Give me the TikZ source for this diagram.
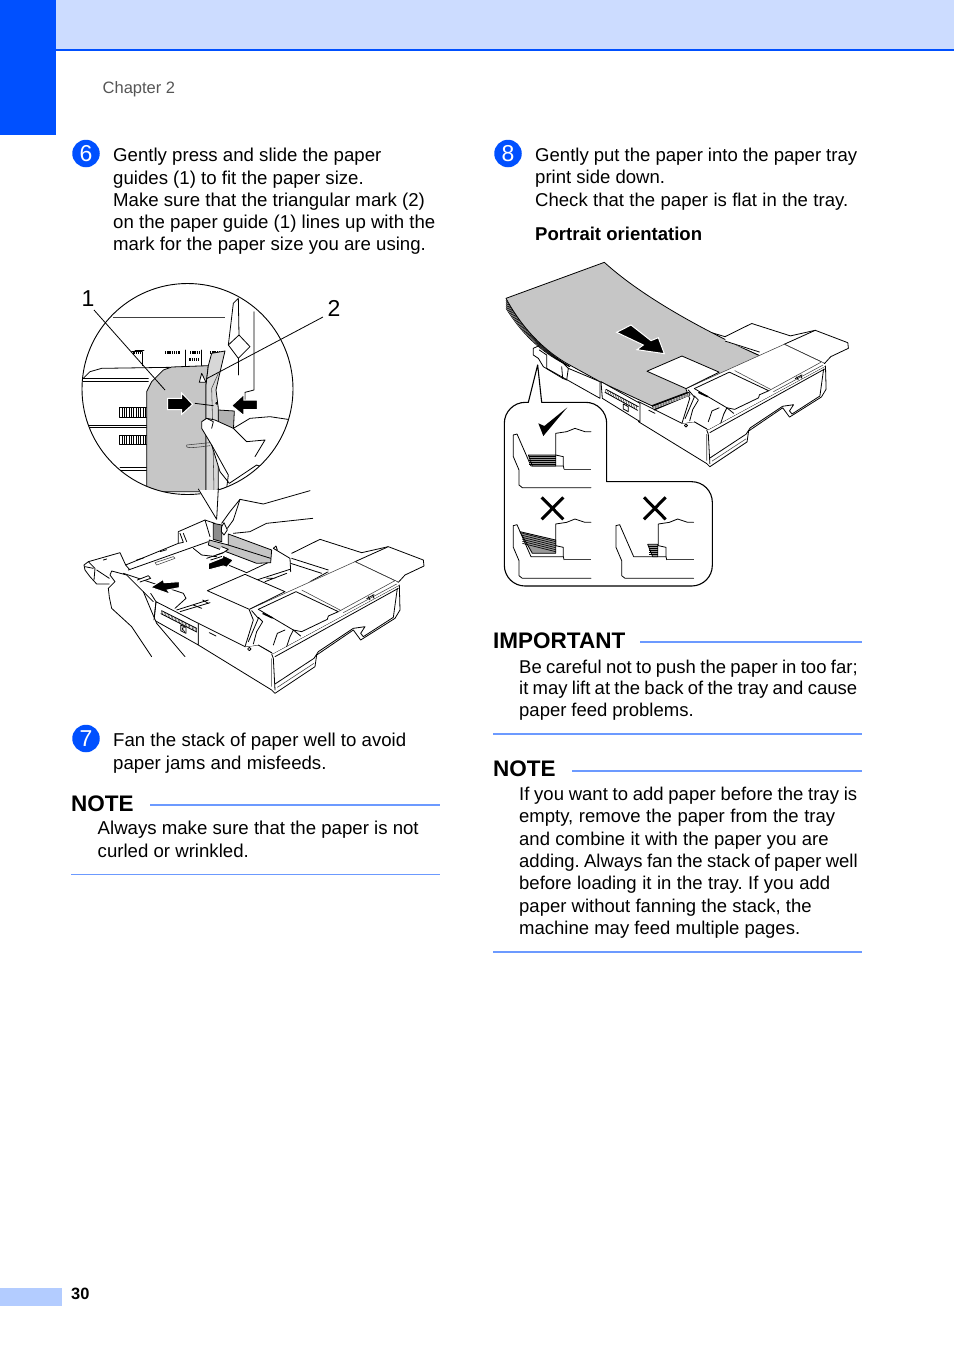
\documentclass[tikz,border=0pt]{standalone}
\usepackage{fontspec}
\setmainfont{Liberation Sans}
\definecolor{hblue}{HTML}{0050FF}
\definecolor{hlight}{HTML}{CCDCFF}
\definecolor{flight}{HTML}{B3CCFF}
\definecolor{rule}{HTML}{6C9AFF}
\definecolor{gtxt}{HTML}{555555}
\definecolor{pgray}{HTML}{C6C6C6}
\tikzset{
 body/.style={font=\fontsize{18.63}{22.3}\selectfont\frenchspacing,anchor=north west,inner sep=0pt,align=left},
 head/.style={font=\fontsize{22.5}{26}\selectfont\bfseries,anchor=base west,inner sep=0pt},
 stepnum/.style={circle,fill=hblue,text=white,minimum size=27.5pt,inner sep=0pt,font=\fontsize{23}{26}\selectfont},
 rulel/.style={rule,line width=1.3pt},
 ill/.style={line width=0.8pt,line join=round,line cap=round},
 thin ill/.style={line width=0.55pt,line join=round,black!75},
 blackarrow/.style={fill=black,draw=white,line width=1pt,line join=miter},
 zoomone/.style={shift={(70,275)},x=0.33333pt,y=-0.33333pt},
 zoomtwo/.style={shift={(70,480)},x=0.33333pt,y=-0.33333pt},
 zoomthree/.style={shift={(495,255)},x=0.33333pt,y=-0.33333pt},
 zoomfour/.style={shift={(495,390)},x=0.33333pt,y=-0.33333pt},
}
\newcommand{\fitl}[2]{\hbox to #1pt{\spaceskip=.278em plus 1fil minus 1fil #2}}
% tray (3 units = 1 px of the left drawing)
\newcommand{\traybody}{%
 \begin{scope}[shift={(360,150)}]
 % rear pieces
 \fill[white] (305,70)--(390,28)--(515,68)--(495,95)--(415,125)--(305,85)--cycle;
 \draw[ill] (305,70)--(390,28)--(515,68)--(595,50);
 \draw[ill] (305,85)--(415,120);
 \draw[ill,fill=white] (495,95)--(595,50)--(700,90)--(702,108)--(645,135)--(625,157)--(615,152)--cycle;
 % front wall
 \draw[ill,fill=white] (25,280)--(25,345)--(245,480)--(255,490)--(375,410)--(380,375)--(490,300)--(512,330)--(615,265)--(630,240)--(628,165)--(250,370)--(245,368)--(205,345)--(165,350)--cycle;
 \draw[thin ill] (245,385)--(245,470) (262,472)--(372,400);
 \draw[ill] (245,372)--(250,385)--(255,480);
 \draw[ill] (255,380)--(625,175);
 \draw[ill] (255,462)--(372,385)--(385,365)--(490,295)--(525,290)--(512,310)--(520,320)--(610,262)--(622,175);
 \draw[ill] (58,308)--(78,318);
 % interior
 \fill[white] (178,238)--(495,95)--(620,155)--(628,165)--(250,370)--(205,345)--(165,350)--(190,270)--cycle;
 \draw[ill] (165,350)--(190,270)--(178,240);
 \draw[ill] (175,335)--(190,300)--(205,265)--(185,242) (190,342)--(200,305)--(218,275)--(205,262);
 \draw[ill] (205,345)--(245,368) (178,357) circle[radius=5];
 \draw[ill] (205,238)--(310,300) (290,350)--(300,320)--(310,300)--(332,318);
 \draw[ill] (250,345)--(262,310)--(285,300);
 \draw[line width=1.6pt] (218,250)--(248,264);
 \draw[ill] (205,238)--(318,185)--(445,245)--(415,258)--(412,268)--(335,305)--(310,300);
 \draw[thin ill] (178,238)--(495,95)--(615,152)--(445,245) (460,248)--(620,162) (335,180)--(450,240);
 \draw[ill] (530,206)--(552,194) (535,200)--(540,210) (548,195)--(552,205);
 % flap
 \draw[ill,fill=white] (52,182)--(165,133)--(285,185)--(178,238)--cycle;
 \end{scope}
}
\begin{document}
\begin{tikzpicture}[x=1pt,y=-1pt]
\useasboundingbox (0,0) rectangle (954,1350);
% page furniture
\fill[hlight] (56,0) rectangle (954,49);
\fill[hblue] (0,0) rectangle (56,135);
\fill[hblue] (56,49) rectangle (954,51);
\fill[flight] (0,1288) rectangle (62,1306);
\node[font=\fontsize{16.5}{20}\selectfont,text=gtxt,anchor=base west,inner sep=0pt] (chap) at (102.5,93) {Chapter 2};
\node[font=\fontsize{16.4}{20}\selectfont\bfseries,anchor=base west,inner sep=0pt] (pg) at (71,1299) {30};
% left column
\node[stepnum] (n6) at (86,153.5) {6};
\node[body] (t6) at (113,148) {Gently press and slide the paper\\guides (1) to fit the paper size.\\Make sure that the triangular mark (2)\\on the paper guide (1) lines up with the\\mark for the paper size you are using.};
\node[stepnum] (n7) at (86,738.5) {7};
\node[body] (t7) at (113,733) {Fan the stack of paper well to avoid\\paper jams and misfeeds.};
\node[head] (note1) at (71,811) {NOTE};
\coordinate (r1a) at (150,805); \coordinate (r1b) at (440,805);
\draw[rulel] (r1a)--(r1b);
\node[body] (t1) at (97.5,821) {Always make sure that the paper is not\\curled or wrinkled.};
\coordinate (r2a) at (71,874.5); \coordinate (r2b) at (440,874.5);
\draw[rule,line width=1pt] (r2a)--(r2b);
% right column
\node[stepnum] (n8) at (508,153.5) {8};
\node[body,font=\fontsize{18.55}{22.3}\selectfont] (t8) at (535,148) {\fitl{322}{Gently put the paper into the paper tray}\\print side down.\\\fitl{313}{Check that the paper is flat in the tray.}};
\node[font=\fontsize{18.55}{22.3}\selectfont\bfseries,anchor=base west,inner sep=0pt] (port) at (535,240) {Portrait orientation};
\node[head] (imp) at (493,648.5) {IMPORTANT};
\coordinate (r3a) at (640,642); \coordinate (r3b) at (862,642);
\draw[rulel] (r3a)--(r3b);
\node[body,font=\fontsize{18.5}{21.8}\selectfont\frenchspacing] (t3) at (519,659.5) {\fitl{338.5}{Be careful not to push the paper in too far;}\\\fitl{338}{it may lift at the back of the tray and cause}\\\fitl{174.5}{paper feed problems.}};
\coordinate (r4a) at (493,734); \coordinate (r4b) at (862,734);
\draw[rulel] (r4a)--(r4b);
\node[head] (note2) at (493,776.7) {NOTE};
\coordinate (r5a) at (572,771); \coordinate (r5b) at (862,771);
\draw[rulel] (r5a)--(r5b);
\node[body,font=\fontsize{18.5}{22.3}\selectfont\frenchspacing] (t5) at (519,787) {\fitl{338}{If you want to add paper before the tray is}\\\fitl{316}{empty, remove the paper from the tray}\\\fitl{309.5}{and combine it with the paper you are}\\\fitl{338.5}{adding. Always fan the stack of paper well}\\\fitl{311}{before loading it in the tray. If you add}\\\fitl{292.5}{paper without fanning the stack, the}\\\fitl{281}{machine may feed multiple pages.}};
\coordinate (r6a) at (493,952); \coordinate (r6b) at (862,952);
\draw[rulel] (r6a)--(r6b);
% --- left tray
\begin{scope}[zoomtwo]
 \begin{scope}[shift={(30,90)}]
  \draw[ill] (405,40)--(375,30)--(295,65)--(295,100)--(137,165)--(120,128)--(25,155)--(12,165)--(15,180)--(30,200)--(50,222)--(88,222);
  \draw[ill] (295,100)--(310,97)--(300,70) (310,70)--(320,95) (375,30)--(390,80);
  \draw[ill] (145,180)--(385,95) (137,165)--(148,178);
  \draw[ill] (25,155)--(45,175)--(42,210) (15,170)--(40,175) (50,180)--(88,205);
  \draw[thin ill] (225,158)--(280,140)--(285,145)--(230,165)--cycle;
  \draw[ill] (170,150)--(190,144) (240,125)--(260,119) (70,150)--(80,147);
  \draw[ill] (340,115)--(365,135)--(410,140);
  \draw[ill] (445,165)--(500,188)--(570,155);
  \draw[ill] (130,190)--(310,250)--(318,265)--(285,295);
  \draw[ill] (290,300)--(385,270) (300,305)--(390,278);
  \draw[ill] (340,285)--(365,295) (368,270)--(385,280);
 \end{scope}
 \begin{scope}[shift={(360,150)}]
  \draw[ill] (200,150)--(300,118) (225,155)--(290,130) (230,145)--(255,145);
  \draw[ill] (250,55)--(300,85)--(302,125) (250,55)--(258,48)--(262,60);
  \draw[ill] (302,100)--(395,130) (360,155)--(415,125);
 \end{scope}
 \traybody
 \begin{scope}[shift={(30,90)}]
  % front-left side
  \draw[ill,fill=white] (228,275)--(355,340)--(355,405)--(222,330)--cycle;
  \draw[ill] (245,302)--(350,355) (243,311)--(350,366);
  \foreach \q in {0,0.04,...,1} \draw[line width=0.35pt] ({245+105*\q},{302+53*\q})--({243+107*\q},{311+55*\q});
  \draw[ill] (302,345)--(318,352)--(318,370)--(302,362)--cycle;
  \draw[ill,line width=0.5pt] (306,350)--(306,362)(307,356)--(314,351)(307,356)--(314,365);
  % gray guide
  \draw[ill,fill=pgray] (445,72)--(575,120)--(572,158)--(530,160)--(385,105)--(388,90)--(445,105)--cycle;
  \draw[ill] (445,105)--(572,145);
  \draw[ill,fill=black!45] (400,40)--(425,45)--(425,95)--(400,88)--cycle;
  \draw[ill,fill=white] (425,110)--(445,118)--(430,128)--(410,135);
  \draw[ill] (380,145)--(430,128) (392,150)--(430,138);
  % arrows
  \draw[blackarrow] (212,232)--(250,208)--(252,218)--(298,215)--(298,233)--(262,240)--(272,253)--cycle;
  \draw[blackarrow] (460,150)--(428,135)--(428,143)--(385,160)--(385,180)--(430,168)--(440,172)--cycle;
  % lower hand
  \draw[ill,fill=white] (315,440)--(230,340)--(215,305)--(190,245)--(140,195)--(95,183)--(90,195)--(105,215)--(85,235)--(88,262)--(95,295)--(155,350)--(215,440);
  \draw[ill,fill=white] (172,210)--(205,197)--(212,205)--(180,216);
  \draw[ill] (190,245)--(220,275) (212,250)--(228,275)--(222,330);
  % upper hand
  \draw[ill] (690,-58)--(550,-18)--(480,-32)--(450,5)--(425,40) (698,25)--(560,40)--(510,65)--(460,70);
  \draw[ill,fill=white] (425,50)--(432,38)--(442,60)--(432,75)--(424,65)--cycle;
  \draw[ill] (480,-32)--(460,30)--(442,55);
 \end{scope}
\end{scope}
% --- magnified circle
\begin{scope}
 \clip (187.5,389) circle[radius=105.5];
 \begin{scope}[zoomone]
  \draw[thin ill] (130,128)--(465,128);
  \draw[ill] (475,210)--(490,85)--(505,70)--(507,180)--(475,210)--(505,250)--(540,215)--(507,180);
  \draw[ill] (552,110)--(552,345)--(525,352)--(525,375);
  \draw[ill] (505,250)--(505,300);
  \draw[ill] (40,310)--(60,290)--(95,280)--(300,277);
  \draw[ill] (40,310)--(235,310) (40,318)--(235,318);
  \draw[ill] (30,450)--(235,450) (30,458)--(235,458);
  \draw[ill] (150,578)--(235,578) (150,585)--(235,585);
  \draw[ill] (216,230)--(216,272) (195,225)--(222,225);
  \draw[ill] (345,225)--(345,272) (395,225)--(395,275);
  \draw[ill] (185,228)--(215,228);
  \foreach \a/\w in {190/20,285/45,360/30,420/30} \draw[line width=2.6pt,dash pattern=on 1.3pt off 0.9pt] (\a,232)--(\a+\w,232);
  \draw[line width=2.6pt,dash pattern=on 1.3pt off 0.9pt] (358,253)--(388,253);
  \foreach \yy in {398,480} {
   \draw[ill,fill=white] (148,\yy)rectangle(232,\yy+28);
   \foreach \xx in {156,163,...,226} \draw[line width=1pt] (\xx,\yy)--(\xx,\yy+28);
  }
  % guide
  \draw[ill,fill=pgray] (230,650)--(230,350)--(245,320)--(280,285)--(305,276)--(415,272)--(408,330)--(408,650)--cycle;
  \draw[ill,fill=black!30] (445,405)--(493,408)--(490,470)--(445,470)--cycle;
  \draw[ill,fill=pgray!70] (415,272)--(425,235)--(465,228)--(448,300)--(438,345)--(445,400)--(445,650)--(408,650)--(408,330)--cycle;
  \draw[thin ill] (432,650)--(428,450)--(425,340)--(445,295);
  \draw[ill] (440,385) circle[radius=3] (375,385)--(430,392);
  \draw[ill,fill=white] (395,295)--(388,322)--(408,322)--cycle;
  \draw[thin ill] (350,510) .. controls (345,520) and (360,520) .. (420,512) (350,510)--(420,503);
  % hand
  \draw[ill,fill=white] (705,650)--(670,620)--(610,590)--(560,570)--(478,625)--(450,590)--(425,510)--(395,460)--(395,440)--(410,430)--(435,435)--(490,460)--(540,430)--(600,425)--(700,440)--(700,650)--cycle;
  \draw[ill] (490,460)--(530,500)--(585,495)--(570,520)--(555,545);
  \draw[ill] (410,430)--(430,440)--(425,460);
  \draw[ill] (425,510)--(475,600)--(470,640);
  % arrows
  \draw[blackarrow] (293,370)--(335,370)--(335,354)--(368,388)--(335,418)--(335,404)--(293,404)--cycle;
  \draw[blackarrow] (562,375)--(522,375)--(522,358)--(485,392)--(522,422)--(522,404)--(562,404)--cycle;
 \end{scope}
\end{scope}
\coordinate (cc) at (187.5,389);
\draw[line width=0.9pt] (cc) circle[radius=105.5];
% callout wedge below the circle
\begin{scope}[zoomtwo]
 \fill[white] (385,30)--(440,118)--(448,30)--cycle;
 \draw[ill] (385,27)--(440,118)--(445,25);
\end{scope}
% leaders
\node[font=\fontsize{23}{26}\selectfont,inner sep=0pt] (lab1) at (88,298.5) {1};
\node[font=\fontsize{23}{26}\selectfont,inner sep=0pt] (lab2) at (334,308.5) {2};
\coordinate (lead1) at (165,390);
\coordinate (lead2) at (206,379);
\coordinate (lab1s) at (94,310);
\coordinate (lab2s) at (323,317);
\draw[line width=0.8pt] (lab1s)--(lead1);
\draw[line width=0.8pt] (lab2s)--(lead2);
% --- right tray
\begin{scope}[zoomthree]
 \draw[ill] (640,235)--(790,300);
 \draw[ill] (650,233)--(700,248);
 % guide at the left end
 \draw[ill,fill=white] (115,280)--(130,273)--(195,315)--(220,340)--(215,375)--(203,370)--(145,335)--(130,310)--(115,300)--cycle;
 \draw[ill] (133,285)--(155,300)--(155,340) (200,335)--(203,370);
 \draw[ill] (220,340)--(315,380) (155,340)--(315,430)--(315,380);
 % stack edges and paper
 \fill[white] (33,130)--(33,160) .. controls (75,227) and (130,290) .. (225,335)--(215,325) .. controls (130,275) and (70,200) .. (33,130);
 \foreach \d in {6,12,18,24,30} \draw[line width=0.6pt] (33,{130+\d}) .. controls ({75},{200+\d*0.9}) and ({130},{275+\d*0.5}) .. (225,335);
 \draw[ill,fill=pgray] (33,130)--(328,22) .. controls (430,115) and (600,215) .. (800,305)--(700,420)--(582,410)--(470,452)--(315,380)--(215,325) .. controls (130,275) and (70,200) .. (33,130);
\end{scope}
\begin{scope}[shift={(708.3,466.7)},x=0.31pt,y=-0.31pt,shift={(-610,-640)}]
 \traybody
\end{scope}
\begin{scope}[zoomthree]
 \draw[ill,fill=white] (318,380)--(435,445)--(435,500)--(322,430)--cycle;
 \draw[ill] (333,403)--(430,455) (330,412)--(428,466);
 \foreach \q in {0,0.05,...,1} \draw[line width=0.35pt] ({333+97*\q},{403+52*\q})--({330+98*\q},{412+54*\q});
 \draw[ill] (385,447)--(400,455)--(400,470)--(385,462)--cycle;
 % paper edge at the flap
 \draw[ill,fill=black] (472,453)--(582,412)--(585,420)--(478,465)--cycle;
 \foreach \d in {3,6,9} \draw[white,line width=0.45pt] (474,{453+\d})--(583,{412+\d*0.95});
 \draw[blackarrow] (365,232)--(408,210)--(468,257)--(490,248)--(508,296)--(426,284)--(445,270)--cycle;
\end{scope}
% --- callout with the three stack views
\begin{scope}[zoomfour]
 \coordinate (tip) at (128,-75);
 \draw[line width=1.1pt,line join=round,fill=white]
   (100,37)--(tip)--(140,37)--(272,37) arc[start angle=-90,end angle=0,radius=63]
   --(335,275)--(590,275) arc[start angle=-90,end angle=0,radius=62]
   --(652,526) arc[start angle=0,end angle=90,radius=62]
   --(90,588) arc[start angle=90,end angle=180,radius=62]
   --(28,100) arc[start angle=180,end angle=270,radius=63]--cycle;
 \draw[white,line width=1.6pt] (104,38)--(136,38);
 \newcommand{\sidecut}[2]{%
  \begin{scope}[shift={(#1,#2)}]
   \draw[ill] (288,125)--(270,125)--(240,115)--(215,125)--(182,130)--(182,195)--(205,200)--(205,228);
   \draw[ill] (55,135)--(66,132)--(108,228)--(205,228)--(207,237);
   \draw[thin ill] (207,237)--(288,237);
   \draw[ill] (55,135)--(55,200)--(72,240)--(72,285)--(82,293)--(288,293);
  \end{scope}}
 \sidecut{0}{0}
 \sidecut{0}{272}
 \sidecut{308}{272}
 % stacks
 \draw[ill,fill=black!40] (100,195)--(182,195)--(182,228)--(112,228)--cycle;
 \foreach \yy in {200,205.5,211,216.5,222} \draw[line width=0.7pt] (102,\yy)--(182,\yy);
 \draw[ill,fill=black!40] (75,425)--(182,450)--(182,490)--(112,490)--cycle;
 \foreach \a/\b in {430/455,436/461,442/467,448/473,454/479,460/485} \draw[line width=0.7pt] (82,\a)--(182,\b);
 \draw[ill,fill=black!40] (458,463)--(488,463)--(488,500)--(473,500)--cycle;
 \foreach \yy in {470,476,482,488,494} \draw[line width=0.7pt] (462,\yy)--(488,\yy);
 % marks
 \fill (130,100)--(145,138)--(217,52)--(148,108)--cycle;
 \draw[line width=3pt] (140,322)--(205,388) (205,322)--(140,388);
 \draw[line width=3pt] (447,322)--(512,388) (512,322)--(447,388);
\end{scope}
\end{tikzpicture}
\end{document}
